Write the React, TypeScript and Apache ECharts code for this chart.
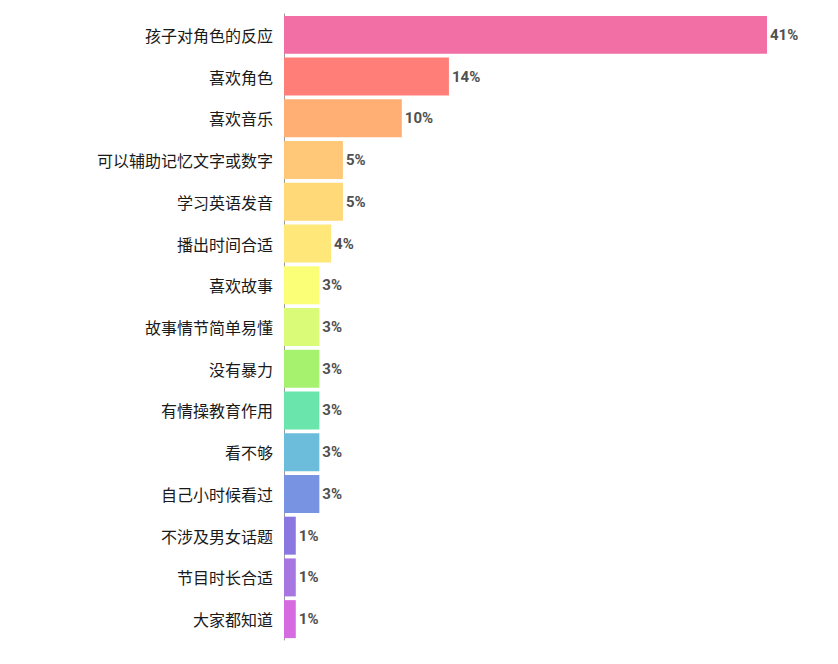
import { useEffect, useRef } from 'react';
import * as echarts from 'echarts';

const categories = [
  '孩子对角色的反应',
  '喜欢角色',
  '喜欢音乐',
  '可以辅助记忆文字或数字',
  '学习英语发音',
  '播出时间合适',
  '喜欢故事',
  '故事情节简单易懂',
  '没有暴力',
  '有情操教育作用',
  '看不够',
  '自己小时候看过',
  '不涉及男女话题',
  '节目时长合适',
  '大家都知道',
];

const values = [41, 14, 10, 5, 5, 4, 3, 3, 3, 3, 3, 3, 1, 1, 1];

const barColors = [
  '#f26fa6', '#ff7f78', '#ffae74', '#ffc778', '#ffd878', '#ffe77a',
  '#fbff78', '#d9fb77', '#a6f26f', '#6ae6ac', '#6cbcdc', '#7793e2',
  '#8a78e0', '#a876e0', '#d66ae0',
];

export default function App() {
  const chartRef = useRef<HTMLDivElement>(null);

  useEffect(() => {
    if (!chartRef.current) return;
    const instance = echarts.init(chartRef.current, undefined, { renderer: 'svg' });

    instance.setOption({
      animation: false,
      grid: { left: 284, right: 71, top: 14, bottom: 24 },
      xAxis: {
        type: 'value',
        min: 0,
        max: 41,
        show: false,
      },
      yAxis: {
        type: 'category',
        data: categories,
        inverse: true,
        axisLine: { show: true, lineStyle: { color: '#9a9a9a', width: 1 } },
        axisTick: { show: false },
        axisLabel: {
          color: '#1a1a1a',
          fontSize: 16,
          margin: 11,
          fontFamily: 'Noto Sans CJK SC',
        },
      },
      series: [
        {
          type: 'bar',
          barCategoryGap: '9%',
          data: values.map((v, i) => ({
            value: v,
            itemStyle: { color: barColors[i] },
          })),
          label: {
            show: true,
            position: 'right',
            distance: 3,
            formatter: '{c}%',
            color: '#505050',
            fontSize: 15,
            fontWeight: 'bold',
            fontFamily: 'Roboto',
          },
        },
      ],
    });

    return () => {
      instance.dispose();
    };
  }, []);

  return <div ref={chartRef} style={{ width: 838, height: 664, margin: -8 }} />;
}
